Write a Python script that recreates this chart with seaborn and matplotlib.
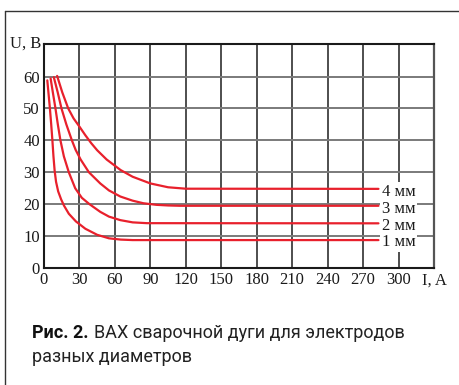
import matplotlib
matplotlib.use("Agg")
import matplotlib.pyplot as plt
import seaborn as sns
import pandas as pd
from matplotlib.lines import Line2D

# ---- data ----
i_1mm = [2.8, 4.0, 5.0, 6.1, 7.1, 8.0, 9.0, 10.2, 12, 14.5, 17, 21, 27, 35, 45, 55, 65, 75, 283]
u_1mm = [58.8, 54, 50, 45, 40, 35, 30.5, 27, 24, 21.5, 19.5, 17, 14.6, 12.3, 10.4, 9.3, 8.9, 8.75, 8.75]
i_2mm = [5.6, 7.5, 9.7, 11.7, 13.9, 16.8, 21, 26.4, 32, 38.5, 47.6, 55, 64.6, 75, 87, 283]
u_2mm = [59.4, 55, 50, 45, 40, 35, 30, 25, 22, 20, 17.6, 16.1, 15, 14.3, 14.05, 14.0]
i_3mm = [8.3, 11.5, 14.8, 18.9, 23.6, 26.8, 31, 38, 47.6, 55, 64.6, 75, 84, 95, 105, 115, 283]
u_3mm = [59.8, 55.2, 50, 45, 40, 37, 34, 30, 26.5, 24.3, 22.4, 21.1, 20.3, 19.8, 19.6, 19.5, 19.5]
i_4mm = [11.1, 15.5, 20.5, 25, 30, 35, 40, 45, 53, 64.8, 75, 90, 105, 120, 283]
u_4mm = [60.2, 55, 50, 46.9, 44.3, 41.6, 39.1, 36.9, 34, 30.7, 28.6, 26.5, 25.3, 24.85, 24.8]

labels = ["1 мм", "2 мм", "3 мм", "4 мм"]
label_y = [8.0, 13.3, 18.6, 23.8]
x_ticks = [0, 30, 60, 90, 120, 150, 180, 210, 240, 270, 300]
y_ticks = [0, 10, 20, 30, 40, 50, 60]

frames = []
for lab, xs, ys in zip(labels, [i_1mm, i_2mm, i_3mm, i_4mm], [u_1mm, u_2mm, u_3mm, u_4mm]):
    frames.append(pd.DataFrame({"I": xs, "U": ys, "d": lab}))
df = pd.concat(frames, ignore_index=True)

sns.set_style("white")
plt.rcParams["font.family"] = ["Liberation Serif", "DejaVu Serif"]

RED = "#e8202c"
FS = 12
fig = plt.figure(figsize=(4.59, 3.85), dpi=100)
ax = fig.add_axes([44 / 459, 1 - 268 / 385, (434 - 44) / 459, (268 - 44) / 385])

# grid
for x in x_ticks[1:]:
    ax.axvline(x, color="#1e1e1e", lw=1.1, zorder=1)
for y in y_ticks[1:]:
    ax.axhline(y, color="#7a7a7a", lw=1.4, zorder=1)

sns.lineplot(data=df, x="I", y="U", units="d", estimator=None, sort=False,
             color=RED, lw=1.6, ax=ax, legend=False, zorder=3)

ax.set_xlim(0, 330)
ax.set_ylim(0, 70.2)
ax.set_xticks(x_ticks)
ax.set_yticks(y_ticks)
ax.set_xticklabels([str(v) for v in x_ticks])
ax.set_yticklabels([str(v) for v in y_ticks])
ax.tick_params(axis="both", length=0, labelsize=FS, colors="#1a1a1a", pad=3)
ax.set_xlabel("")
ax.set_ylabel("")

for s in ["left", "bottom", "top"]:
    ax.spines[s].set_color("#1a1a1a")
    ax.spines[s].set_linewidth(1.5)
ax.spines["right"].set_color("#555555")
ax.spines["right"].set_linewidth(1.6)

# curve labels with white background
for lab, y in zip(labels, label_y):
    ax.text(286.0, y, lab, fontsize=FS, ha="left", va="center", color="#1a1a1a", zorder=5,
            bbox=dict(facecolor="white", edgecolor="none", pad=1.2))

# axis names
ax.text(-0.008, 1.0, "U, B", transform=ax.transAxes, ha="right", va="center",
        fontsize=FS, color="#1a1a1a")
ax.text(1.0, -0.055, "I, A", transform=ax.transAxes, ha="center", va="center",
        fontsize=FS, color="#1a1a1a")

# outer frame lines
fig.add_artist(Line2D([5 / 459, 5 / 459], [0, 1 - 10.5 / 385], transform=fig.transFigure,
                      color="#333333", lw=1.0))
fig.add_artist(Line2D([5 / 459, 1], [1 - 10.5 / 385, 1 - 10.5 / 385], transform=fig.transFigure,
                      color="#333333", lw=1.0))

# caption
cap_font = ["Roboto", "DejaVu Sans"]
CFS = 13
t1 = fig.text(32 / 459, 1 - 338 / 385, "Рис. 2.", fontsize=CFS, fontweight="bold",
              family=cap_font, color="#111111", ha="left", va="baseline")
fig.canvas.draw()
bb = t1.get_window_extent(renderer=fig.canvas.get_renderer())
fig.text(bb.x1 / fig.bbox.width + 5 / 459, 1 - 338 / 385, "ВАХ сварочной дуги для электродов",
         fontsize=CFS, family=cap_font, color="#222222", ha="left", va="baseline")
fig.text(32 / 459, 1 - 362 / 385, "разных диаметров", fontsize=CFS, family=cap_font,
         color="#222222", ha="left", va="baseline")

fig.savefig("out.png", dpi=100, facecolor="white")
